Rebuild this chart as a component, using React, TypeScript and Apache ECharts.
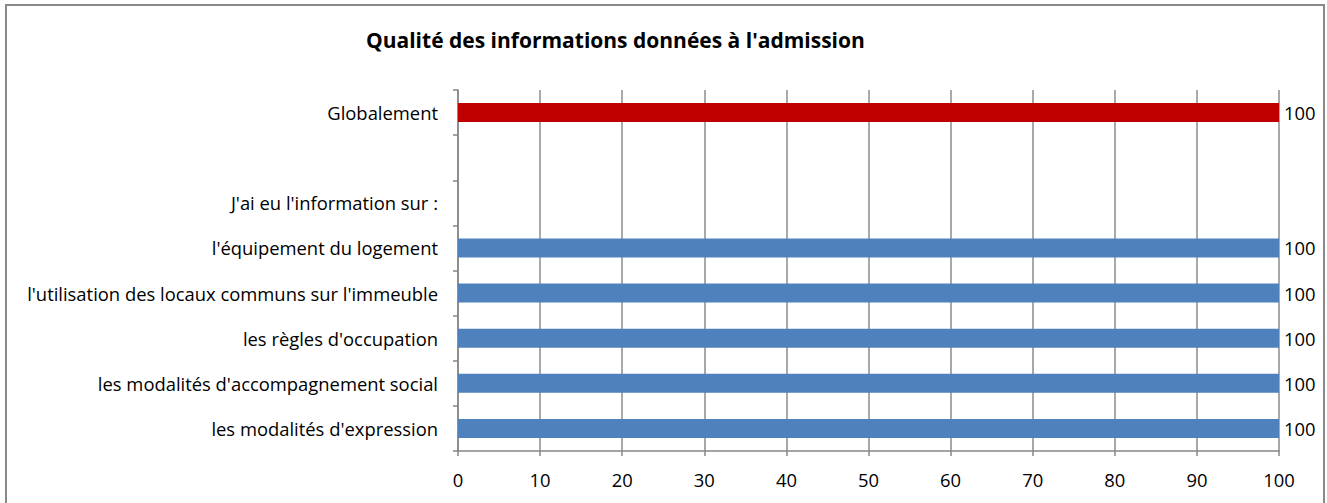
import React, { useEffect, useRef } from "react";
import * as echarts from "echarts";

const categories = [
  "les modalités d'expression",
  "les modalités d'accompagnement social",
  "les règles d'occupation",
  "l'utilisation des locaux communs sur l'immeuble",
  "l'équipement du logement",
  "J'ai eu l'information sur :",
  "",
  "Globalement",
];
const values: (number | null)[] = [100, 100, 100, 100, 100, null, null, 100];
const highlighted = ["Globalement"];
const xTicks = { min: 0, max: 100, interval: 10 };
const title = "Qualité des informations données à l'admission";

const FONT = "'Open Sans', 'Noto Sans', sans-serif";
const FS = 18.4;

export default function App() {
  const ref = useRef<HTMLDivElement>(null);
  useEffect(() => {
    if (!ref.current) return;
    const chart = echarts.init(ref.current, undefined, { renderer: "svg" });
    chart.setOption({
      animation: false,
      backgroundColor: "#ffffff",
      textStyle: { fontFamily: FONT },
      graphic: [
        {
          type: "rect",
          shape: { x: 6, y: 5, width: 1318, height: 520 },
          style: { fill: "none", stroke: "#898989", lineWidth: 2 },
          silent: true,
        },
        {
          type: "text",
          left: 366,
          top: 29,
          style: {
            text: title,
            fontFamily: FONT,
            fontSize: 21,
            fontWeight: "bold",
            fill: "#000",
          },
        },
      ],
      grid: { left: 458, right: 48, top: 90, bottom: 52, containLabel: false },
      xAxis: {
        type: "value",
        min: xTicks.min,
        max: xTicks.max,
        interval: xTicks.interval,
        axisLine: { show: true, lineStyle: { color: "#868686", width: 1.5 } },
        axisTick: { show: true, length: 5, lineStyle: { color: "#868686", width: 1.5 } },
        axisLabel: { color: "#000", fontSize: FS, fontFamily: FONT, margin: 19 },
        splitLine: { show: true, lineStyle: { color: "#8c8c8c", width: 1.5 } },
      },
      yAxis: {
        type: "category",
        data: categories,
        axisLine: { show: true, lineStyle: { color: "#868686", width: 1.5 } },
        axisTick: { show: true, length: 5, lineStyle: { color: "#868686", width: 1.5 } },
        axisLabel: { color: "#000", fontSize: FS, fontFamily: FONT, margin: 20 },
        splitLine: { show: false },
      },
      series: [
        {
          type: "bar",
          data: values.map((v, i) => ({
            value: v,
            itemStyle: {
              color: highlighted.includes(categories[i]) ? "#C00000" : "#4F81BD",
            },
          })),
          barWidth: 19,
          label: {
            show: true,
            position: "right",
            distance: 5,
            color: "#000",
            fontSize: FS,
            fontFamily: FONT,
          },
        },
      ],
    });
    return () => chart.dispose();
  }, []);
  return (
    <div
      ref={ref}
      style={{ position: "fixed", left: 0, top: 0, width: 1327, height: 503 }}
    />
  );
}
